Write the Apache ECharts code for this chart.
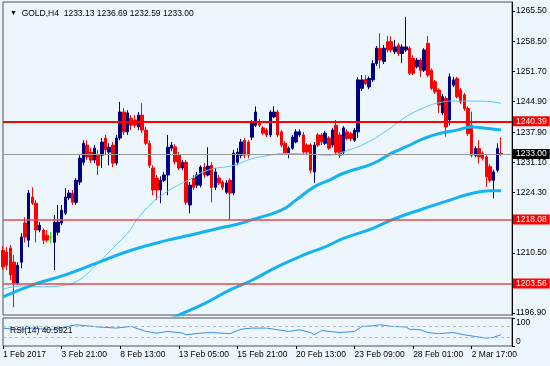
<!DOCTYPE html>
<html>
<head>
<meta charset="utf-8">
<script src="https://cdn.jsdelivr.net/npm/echarts@6.0.0/dist/echarts.min.js"></script>
<style>
html, body { margin: 0; padding: 0; background: #eef6fd; }
#gold_h4 { width: 550px; height: 366px; }
</style>
</head>
<body>
<div id="gold_h4"></div>
<script>
// GOLD H4 candles, 1 Feb - 3 Mar 2017
var opens = [
  1211.1, 1210.7, 1211.6, 1208.4, 1203.6, 1208.4, 1217.3, 1213.4, 1223.2, 1221.8,
  1215.7, 1215.7, 1214.5, 1214.1, 1212.9, 1215.2, 1217.3, 1219.5, 1223.0, 1224.1,
  1222.0, 1226.6, 1231.1, 1235.0, 1233.4, 1231.6, 1232.7, 1232.7, 1236.6, 1233.4,
  1235.0, 1230.9, 1236.6, 1242.5, 1238.0, 1241.1, 1240.7, 1239.1, 1241.8, 1238.4,
  1235.4, 1229.8, 1227.5, 1224.8, 1227.0, 1228.2, 1234.3, 1234.6, 1232.7, 1229.8,
  1231.1, 1221.4, 1227.5, 1225.9, 1225.9, 1230.0, 1228.2, 1230.4, 1225.4, 1227.5,
  1226.6, 1224.3, 1227.0, 1224.1, 1231.1, 1232.7, 1236.1, 1235.7, 1236.8, 1239.5,
  1240.2, 1238.9, 1238.4, 1237.3, 1241.4, 1242.5, 1238.0, 1235.4, 1233.2, 1234.3,
  1235.7, 1237.3, 1237.3, 1235.0, 1235.0, 1228.9, 1237.3, 1237.3, 1235.4, 1236.6,
  1235.0, 1239.5, 1237.3, 1233.4, 1238.0, 1237.6, 1236.1, 1238.0, 1247.9, 1249.9,
  1248.2, 1249.8, 1253.5, 1257.0, 1254.0, 1258.5, 1258.5, 1256.2, 1257.7, 1255.8,
  1256.6, 1257.0, 1254.7, 1252.8, 1254.3, 1252.0, 1258.1, 1252.0, 1249.4, 1247.5,
  1242.3, 1245.6, 1240.7, 1248.6, 1250.1, 1247.5, 1246.4, 1243.3, 1239.5, 1232.7,
  1234.2, 1233.1, 1232.3, 1230.1, 1227.0, 1229.3, 1233.13
];
var highs = [
  1212.0, 1211.8, 1212.3, 1210.0, 1208.4, 1215.0, 1218.6, 1224.8, 1225.4, 1222.5,
  1217.5, 1216.1, 1215.7, 1215.2, 1219.1, 1221.4, 1221.4, 1225.2, 1224.8, 1224.8,
  1227.5, 1232.7, 1236.1, 1236.1, 1234.3, 1235.0, 1233.9, 1236.6, 1237.3, 1235.4,
  1235.7, 1237.3, 1244.8, 1243.4, 1242.9, 1241.8, 1241.8, 1242.5, 1244.5, 1239.1,
  1236.1, 1230.4, 1228.2, 1227.9, 1228.9, 1237.3, 1235.7, 1235.2, 1233.4, 1231.6,
  1231.6, 1226.6, 1228.2, 1228.9, 1230.4, 1230.9, 1234.5, 1231.1, 1229.8, 1228.2,
  1227.0, 1227.0, 1227.5, 1233.9, 1234.3, 1236.4, 1236.6, 1236.1, 1240.7, 1243.8,
  1240.9, 1239.3, 1238.9, 1242.9, 1243.8, 1243.0, 1238.4, 1235.9, 1234.7, 1237.3,
  1238.6, 1238.6, 1238.0, 1235.4, 1235.4, 1235.7, 1237.7, 1237.7, 1238.2, 1237.0,
  1238.9, 1240.7, 1237.9, 1239.3, 1238.6, 1238.0, 1238.9, 1250.4, 1250.9, 1250.9,
  1250.6, 1254.3, 1257.5, 1260.4, 1257.7, 1259.8, 1259.7, 1258.9, 1258.2, 1257.9,
  1264.1, 1257.5, 1255.4, 1254.8, 1254.7, 1257.0, 1259.8, 1252.4, 1249.8, 1247.9,
  1246.6, 1246.1, 1251.3, 1250.5, 1250.5, 1248.0, 1246.8, 1243.8, 1242.6, 1234.7,
  1236.1, 1233.6, 1232.8, 1230.6, 1229.4, 1235.4, 1236.69
];
var lows = [
  1206.6, 1206.6, 1204.3, 1198.2, 1203.2, 1207.0, 1212.9, 1211.8, 1221.4, 1212.9,
  1215.2, 1212.5, 1212.9, 1212.7, 1206.6, 1214.5, 1216.8, 1219.1, 1222.5, 1221.4,
  1221.4, 1225.9, 1230.4, 1231.6, 1230.9, 1230.9, 1228.2, 1229.8, 1232.7, 1230.4,
  1230.0, 1230.4, 1236.1, 1237.3, 1237.3, 1238.4, 1238.9, 1238.4, 1237.7, 1235.0,
  1229.8, 1223.6, 1222.5, 1221.8, 1226.6, 1223.6, 1233.6, 1230.6, 1229.3, 1229.3,
  1221.4, 1219.5, 1224.8, 1225.2, 1225.4, 1227.5, 1227.9, 1222.0, 1224.8, 1225.9,
  1224.8, 1223.9, 1218.0, 1223.6, 1230.4, 1232.0, 1232.0, 1232.0, 1236.1, 1239.1,
  1239.1, 1237.3, 1236.8, 1236.8, 1241.1, 1236.8, 1234.5, 1232.7, 1232.0, 1233.9,
  1235.4, 1236.8, 1232.7, 1232.7, 1228.6, 1226.4, 1234.5, 1235.0, 1235.0, 1233.9,
  1234.5, 1232.7, 1232.0, 1232.7, 1236.1, 1235.9, 1235.7, 1236.6, 1247.3, 1248.6,
  1247.7, 1249.3, 1253.0, 1252.4, 1253.4, 1256.1, 1256.0, 1255.7, 1255.2, 1253.6,
  1256.1, 1250.9, 1250.9, 1252.4, 1250.5, 1251.6, 1250.4, 1247.5, 1246.6, 1242.3,
  1241.8, 1236.9, 1239.5, 1248.2, 1245.6, 1244.3, 1242.8, 1237.1, 1232.2, 1232.2,
  1230.8, 1231.5, 1225.5, 1226.5, 1222.9, 1228.8, 1232.59
];
var closes = [
  1207.3, 1207.7, 1205.5, 1203.6, 1207.7, 1214.1, 1214.1, 1224.1, 1221.8, 1215.7,
  1216.8, 1213.4, 1213.4, 1214.1, 1217.5, 1217.5, 1220.2, 1223.2, 1224.1, 1222.0,
  1227.0, 1232.0, 1235.4, 1232.3, 1231.6, 1234.3, 1230.4, 1235.7, 1233.9, 1234.5,
  1230.9, 1236.6, 1242.5, 1238.0, 1242.3, 1239.5, 1239.5, 1241.8, 1238.4, 1235.4,
  1230.4, 1224.8, 1224.8, 1227.0, 1228.2, 1234.5, 1235.0, 1231.2, 1229.8, 1231.1,
  1222.0, 1225.9, 1225.4, 1228.2, 1230.0, 1228.2, 1230.2, 1225.4, 1228.9, 1226.4,
  1225.4, 1226.4, 1224.1, 1233.2, 1233.4, 1235.7, 1232.7, 1232.7, 1240.0, 1242.5,
  1239.5, 1237.7, 1237.3, 1242.5, 1242.5, 1237.3, 1235.0, 1233.2, 1234.3, 1236.8,
  1238.0, 1238.0, 1233.4, 1233.4, 1229.3, 1235.0, 1235.0, 1235.7, 1237.7, 1234.3,
  1238.4, 1233.4, 1232.7, 1238.9, 1236.5, 1236.5, 1238.4, 1249.8, 1249.8, 1249.0,
  1250.1, 1253.5, 1257.0, 1254.3, 1257.0, 1256.6, 1256.6, 1257.3, 1255.8, 1257.3,
  1257.3, 1251.3, 1251.3, 1254.3, 1252.0, 1256.6, 1250.9, 1247.9, 1247.1, 1244.1,
  1246.0, 1239.1, 1250.5, 1249.8, 1246.0, 1244.8, 1243.3, 1237.6, 1232.7, 1234.2,
  1232.3, 1232.0, 1227.8, 1227.0, 1228.9, 1234.2, 1233.00
];

// moving averages: [bar index, price]
var maFast = [
  [0, 1202.2], [5, 1203.0], [11, 1202.8], [17, 1203.2], [20, 1204.0], [23, 1205.8],
  [26, 1208.2], [30, 1211.6], [34, 1215.0], [37, 1218.5], [41, 1222.1], [44, 1224.0],
  [47, 1225.5], [51, 1227.2], [56, 1229.3], [63, 1230.4], [68, 1231.9], [73, 1232.7],
  [77, 1233.1], [84, 1232.9], [89, 1232.7], [93, 1233.5], [99, 1235.4], [105, 1238.4],
  [110, 1241.4], [115, 1243.5], [119, 1244.6], [124, 1245.0], [130, 1245.0], [136, 1244.5]
];
var maMid = [
  [0, 1200.5], [8, 1203.2], [17, 1205.5], [25, 1208.0], [35, 1211.1], [45, 1213.4],
  [51, 1214.5], [59, 1216.1], [64, 1217.0], [69, 1218.3], [76, 1220.2], [80, 1222.5],
  [85, 1225.5], [89, 1227.0], [93, 1228.6], [101, 1230.8], [106, 1233.1], [110, 1234.6],
  [115, 1236.5], [119, 1237.6], [124, 1238.4], [128, 1239.1], [130, 1239.0], [136, 1238.4]
];
var maSlow = [
  [44, 1194.9], [48, 1196.4], [55, 1199.0], [62, 1202.1], [68, 1204.3], [75, 1207.4],
  [82, 1210.0], [88, 1211.9], [93, 1213.8], [101, 1216.1], [107, 1218.3], [115, 1220.6],
  [122, 1222.5], [128, 1224.0], [133, 1224.6], [136, 1224.6]
];

// RSI(14): [bar index, value]
var rsi14 = [
  [0, 64], [4, 58], [8, 64], [13, 58], [17, 68], [20, 76], [23, 72], [26, 68], [31, 64],
  [35, 70], [39, 52], [42, 46], [45, 52], [49, 46], [50, 40], [54, 46], [57, 48], [62, 44],
  [65, 60], [68, 64], [72, 64], [75, 58], [78, 52], [81, 58], [84, 48], [85, 40], [87, 55],
  [92, 48], [96, 52], [98, 70], [101, 72], [103, 76], [106, 70], [110, 68], [111, 60],
  [114, 58], [116, 48], [119, 44], [123, 48], [126, 40], [129, 34], [132, 28], [134, 31],
  [136, 40.5921]
];

var levels = [1240.39, 1218.08, 1203.56];
var priceTicks = [1196.90, 1203.70, 1210.50, 1217.50, 1224.30, 1231.10, 1237.90, 1244.90, 1251.70, 1258.50, 1265.50];
var rsiTicks = [0, 30, 70, 100];
var dateTicks = ['1 Feb 2017', '3 Feb 21:00', '8 Feb 13:00', '13 Feb 05:00', '15 Feb 21:00',
  '20 Feb 13:00', '23 Feb 09:00', '28 Feb 01:00', '2 Mar 17:00'];

var FONT = '"Liberation Sans", Arial, sans-serif';
var BG = '#eef6fd';
var slotCount = 140;

var categories = [];
for (var i = 0; i < slotCount; i++) categories.push(String(i));

var candles = opens.map(function (o, i) {
  return [o, closes[i], lows[i], highs[i]];
});

var last = opens.length - 1;
var header = 'GOLD,H4  ' + [opens[last], highs[last], lows[last], closes[last]]
  .map(function (v) { return v.toFixed(2); }).join(' ');
var rsiLast = rsi14[rsi14.length - 1][1];

function tag(bg) {
  return {
    show: true, position: 'end', distance: 1,
    formatter: function (p) { return p.value.toFixed(2); },
    backgroundColor: bg, color: '#fff', padding: [1, 3, 0, 3],
    fontSize: 8.5, fontFamily: FONT
  };
}

var levelLines = levels.map(function (v, k) {
  return {
    yAxis: v,
    lineStyle: { color: k === 0 ? '#ff0000' : '#e84848', width: k === 0 ? 2 : 1.5, type: 'solid' },
    label: tag('#ff0000')
  };
});
levelLines.push({
  yAxis: closes[last],
  lineStyle: { color: '#9a9a9a', width: 1, type: 'solid' },
  label: tag('#000000')
});

var dom = document.getElementById('gold_h4');
var myChart = echarts.init(dom);
var option;

option = {
  animation: false,
  backgroundColor: BG,
  textStyle: { fontFamily: FONT },
  title: [
    {
      text: '{tri|▼}  ' + header,
      left: 5, top: 4,
      textStyle: {
        fontSize: 8.5, fontWeight: 'normal', color: '#000', fontFamily: FONT,
        rich: { tri: { fontSize: 7, color: '#000', fontFamily: FONT } }
      }
    },
    {
      text: 'RSI(14) ' + rsiLast.toFixed(4),
      left: 5, top: 321,
      textStyle: { fontSize: 8.5, fontWeight: 'normal', color: '#000', fontFamily: FONT }
    }
  ],
  grid: [
    { left: 3, right: 38, top: 2, height: 313, show: true, borderColor: '#505050', borderWidth: 1 },
    { left: 3, right: 38, top: 318, height: 28, show: true, borderColor: '#505050', borderWidth: 1 }
  ],
  xAxis: [
    {
      type: 'category', gridIndex: 0, data: categories, boundaryGap: false,
      axisLine: { show: false }, axisTick: { show: false }, axisLabel: { show: false },
      splitLine: { show: false }
    },
    {
      type: 'category', gridIndex: 1, data: categories, boundaryGap: false,
      axisLine: { show: false },
      axisTick: { show: true, interval: 15, length: 3, lineStyle: { color: '#000' } },
      axisLabel: {
        interval: 15, align: 'left', margin: 4, fontSize: 8.5, color: '#000',
        formatter: function (v) {
          var n = +v;
          return n % 16 === 0 && dateTicks[n / 16] ? dateTicks[n / 16] : '';
        }
      },
      splitLine: { show: false }
    }
  ],
  yAxis: [
    {
      type: 'value', gridIndex: 0, position: 'right', min: 1196.4, max: 1267.5, scale: true,
      axisLine: { show: true, lineStyle: { color: '#000' } },
      axisTick: { show: true, length: 3, customValues: priceTicks, lineStyle: { color: '#000' } },
      axisLabel: {
        customValues: priceTicks, margin: 4, fontSize: 8.5, color: '#000',
        showMinLabel: true, showMaxLabel: true,
        formatter: function (v) { return v.toFixed(2); }
      },
      splitLine: { show: false }
    },
    {
      type: 'value', gridIndex: 1, position: 'right', min: 0, max: 100,
      axisLine: { show: true, lineStyle: { color: '#000' } },
      axisTick: { show: true, length: 3, customValues: rsiTicks, lineStyle: { color: '#000' } },
      axisLabel: {
        customValues: rsiTicks, margin: 4, fontSize: 8.5, color: '#000',
        showMinLabel: true, showMaxLabel: true, hideOverlap: false,
        verticalAlignMinLabel: 'bottom', verticalAlignMaxLabel: 'top'
      },
      splitLine: { show: false }
    }
  ],
  series: [
    {
      name: 'GOLD,H4',
      type: 'candlestick',
      xAxisIndex: 0, yAxisIndex: 0,
      data: candles,
      barWidth: 3,
      itemStyle: {
        color: '#000080', color0: '#ff0000',
        borderColor: '#000080', borderColor0: '#ff0000',
        borderColorDoji: '#00e000', borderWidth: 1
      },
      markLine: {
        silent: true, symbol: 'none', animation: false,
        data: levelLines
      }
    },
    {
      name: 'MA fast', type: 'line', xAxisIndex: 0, yAxisIndex: 0,
      data: maFast, showSymbol: false, smooth: true, z: 3,
      lineStyle: { color: '#5cc8f6', width: 1 }
    },
    {
      name: 'MA mid', type: 'line', xAxisIndex: 0, yAxisIndex: 0,
      data: maMid, showSymbol: false, smooth: true, z: 3,
      lineStyle: { color: '#14b2f0', width: 3 }
    },
    {
      name: 'MA slow', type: 'line', xAxisIndex: 0, yAxisIndex: 0,
      data: maSlow, showSymbol: false, smooth: true, z: 3,
      lineStyle: { color: '#14b2f0', width: 3 }
    },
    {
      name: 'RSI(14)', type: 'line', xAxisIndex: 1, yAxisIndex: 1,
      data: rsi14, showSymbol: false,
      lineStyle: { color: '#3a8ee6', width: 1 },
      markLine: {
        silent: true, symbol: 'none', animation: false,
        label: { show: false },
        lineStyle: { color: '#b8b8b8', width: 1, type: [3, 3] },
        data: [{ yAxis: 70 }, { yAxis: 30 }]
      }
    }
  ]
};

if (option && typeof option === 'object') {
  myChart.setOption(option);
}
</script>
</body>
</html>
